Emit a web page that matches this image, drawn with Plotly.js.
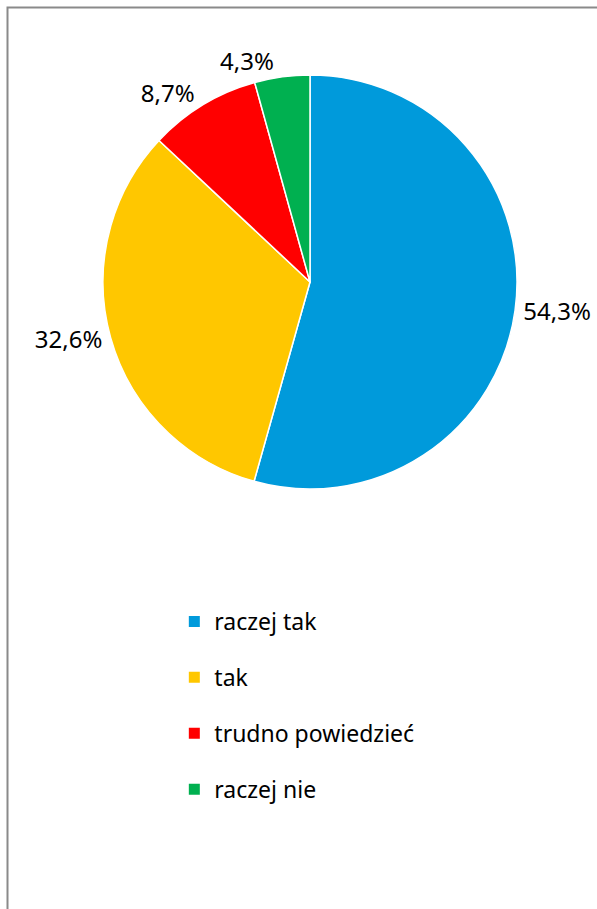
<!DOCTYPE html>
<html>
<head>
<meta charset="utf-8">
<script src="https://cdn.plot.ly/plotly-3.0.1.min.js"></script>
<style>html,body{margin:0;padding:0;background:#fff;}</style>
</head>
<body>
<div id="chart" style="width:597px;height:909px;"></div>
<script>
const labels = ["raczej tak", "tak", "trudno powiedzieć", "raczej nie"];
const values = [54.3, 32.6, 8.7, 4.3];
const colors = ["#009ADB", "#FFC700", "#FF0000", "#00B050"];

const font = "Noto Sans, Open Sans, sans-serif";
const pieDomain = {x: [103/597, 517/597], y: [1 - 489/909, 1 - 75/909]};

// main pie: slices + labels of the first three slices
const traces = [{
  type: "pie",
  labels: labels,
  values: values,
  sort: false,
  direction: "clockwise",
  rotation: 0,
  marker: {colors: colors, line: {color: "#ffffff", width: 1.5}},
  texttemplate: "%{value:.1f}%",
  textposition: ["outside", "outside", "outside", "none"],
  textfont: {family: font, size: 24, color: "#000000"},
  showlegend: false,
  hoverinfo: "label+value",
  domain: pieDomain
}, {
  // same data, transparent: carries the label of the smallest slice so it is not pushed away
  type: "pie",
  labels: labels,
  values: values,
  sort: false,
  direction: "clockwise",
  rotation: 0,
  marker: {colors: ["rgba(0,0,0,0)", "rgba(0,0,0,0)", "rgba(0,0,0,0)", "rgba(0,0,0,0)"], line: {width: 0}},
  texttemplate: "%{value:.1f}%",
  textposition: ["none", "none", "none", "outside"],
  textfont: {family: font, size: 24, color: "#000000"},
  showlegend: false,
  hoverinfo: "skip",
  domain: pieDomain
}];

labels.forEach((lab, i) => {
  traces.push({
    type: "scatter",
    x: [null], y: [null],
    mode: "markers",
    name: lab,
    legendgroup: "g" + i,
    marker: {symbol: "square", size: 11, color: colors[i]},
    showlegend: true,
    hoverinfo: "skip"
  });
});

const layout = {
  width: 597, height: 909,
  margin: {l: 0, r: 0, t: 0, b: 0},
  paper_bgcolor: "#ffffff",
  plot_bgcolor: "#ffffff",
  separators: ",.",
  xaxis: {visible: false},
  yaxis: {visible: false},
  showlegend: true,
  legend: {
    x: 0.292, xanchor: "left",
    y: 1 - 600/909, yanchor: "top",
    font: {family: font, size: 23, color: "#000000"},
    tracegroupgap: 23,
    bgcolor: "rgba(0,0,0,0)"
  },
  shapes: [{
    type: "rect", xref: "paper", yref: "paper",
    x0: 7.5/597, x1: 1.02, y0: -0.02, y1: 1 - 7.5/909,
    line: {color: "#8a8a8a", width: 2},
    fillcolor: "rgba(0,0,0,0)"
  }]
};

Plotly.newPlot("chart", traces, layout, {displayModeBar: false, staticPlot: true});
</script>
</body>
</html>
